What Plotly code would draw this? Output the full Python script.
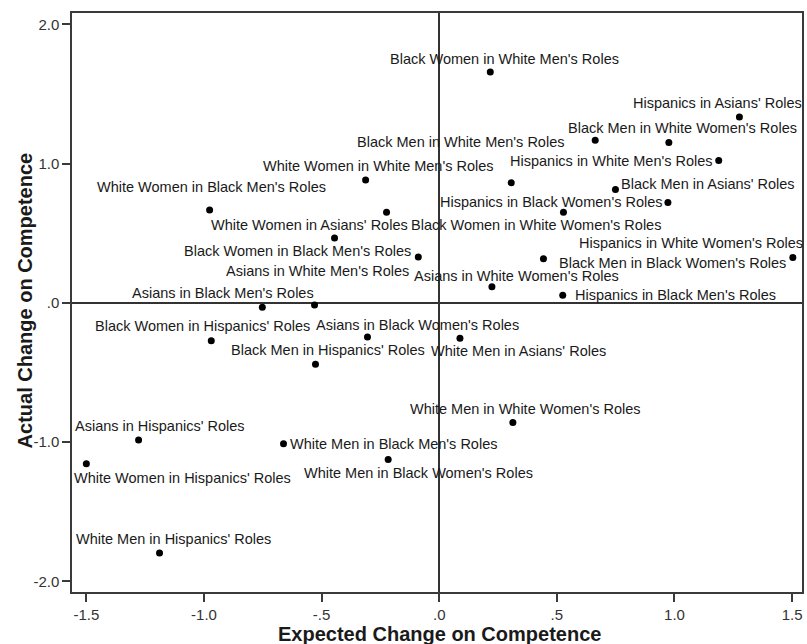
import plotly.graph_objects as go

# ---- data ----
labels = [
    "White Women in White Men's Roles",
    "White Women in Black Men's Roles",
    "White Women in Asians' Roles",
    "Black Women in Black Men's Roles",
    "Asians in White Men's Roles",
    "Black Women in White Men's Roles",
    "Hispanics in Asians' Roles",
    "Black Men in White Men's Roles",
    "Black Men in White Women's Roles",
    "Hispanics in White Men's Roles",
    "",
    "Black Men in Asians' Roles",
    "Hispanics in Black Women's Roles",
    "Black Women in White Women's Roles",
    "Black Men in Black Women's Roles",
    "Hispanics in White Women's Roles",
    "Asians in White Women's Roles",
    "Hispanics in Black Men's Roles",
    "Asians in Black Men's Roles",
    "",
    "Black Women in Hispanics' Roles",
    "Asians in Black Women's Roles",
    "Black Men in Hispanics' Roles",
    "White Men in Asians' Roles",
    "White Men in White Women's Roles",
    "Asians in Hispanics' Roles",
    "White Men in Black Men's Roles",
    "White Women in Hispanics' Roles",
    "White Men in Black Women's Roles",
    "White Men in Hispanics' Roles",
]
expected_change = [
    -0.313, -0.976, -0.224, -0.445, -0.089, 0.217, 1.276, 0.663, 0.976, 1.188,
    0.306, 0.749, 0.972, 0.528, 0.443, 1.503, 0.224, 0.525, -0.752, -0.530,
    -0.969, -0.305, -0.526, 0.088, 0.313, -1.278, -0.662, -1.500, -0.217, -1.189,
]
actual_change = [
    0.881, 0.666, 0.651, 0.465, 0.329, 1.658, 1.335, 1.168, 1.151, 1.022,
    0.862, 0.814, 0.721, 0.651, 0.316, 0.326, 0.115, 0.054, -0.032, -0.016,
    -0.272, -0.245, -0.441, -0.255, -0.860, -0.986, -1.013, -1.156, -1.126, -1.797,
]
x_tickvals = [-1.5, -1.0, -0.5, 0.0, 0.5, 1.0, 1.5]
x_ticktext = ["-1.5", "-1.0", "-.5", ".0", ".5", "1.0", "1.5"]
y_tickvals = [-2.0, -1.0, 0.0, 1.0, 2.0]
y_ticktext = ["-2.0", "-1.0", ".0", "1.0", "2.0"]

# ---- label placement (anchor, x shift px, y shift px downward) ----
label_place = [
    ("center", 13, -14), ("center", 2, -23), ("right", 23, 13), ("right", 78, 13),
    ("right", -7, 14), ("center", 14, -13), ("right", 65, -14), ("right", -29, 2),
    ("center", 14, -15), ("right", -4, 1), ("center", 0, 0), ("left", 4, -5),
    ("right", -3, 0), ("left", -154, 13), ("left", 14, 4), ("right", 12, -14),
    ("left", -80, -11), ("left", 10, 0), ("center", -39, -14), ("center", 0, 0),
    ("center", -9, -15), ("left", -53, -12), ("center", 13, -14), ("left", -31, 13),
    ("center", 13, -14), ("left", -66, -14), ("left", 4, 0), ("left", -14, 14),
    ("center", 30, 13), ("center", 14, -14),
]

FONT = "Liberation Sans, Arial, sans-serif"

fig = go.Figure()
fig.add_trace(go.Scatter(
    x=expected_change, y=actual_change, mode="markers",
    marker=dict(color="black", size=7),
    hovertext=labels, hoverinfo="text", showlegend=False,
))

annotations = []
for lab, xv, yv, (anc, dx, dy) in zip(labels, expected_change, actual_change, label_place):
    if not lab:
        continue
    annotations.append(dict(
        x=xv, y=yv, xref="x", yref="y", text=lab, showarrow=False,
        xanchor=anc, yanchor="middle", xshift=dx, yshift=-dy,
        font=dict(family=FONT, size=14.5, color="#1a1a1a"),
    ))

W, H = 807, 644
plot_l, plot_r, plot_t, plot_b = 72.3, 802.3, 12.7, 592.3
pw, ph = plot_r - plot_l, plot_b - plot_t

annotations.append(dict(
    x=(440.0 - plot_l) / pw, y=(plot_b - 634.5) / ph, xref="paper", yref="paper",
    text="<b>Expected Change on Competence</b>",
    showarrow=False, xanchor="center", yanchor="middle",
    font=dict(family=FONT, size=20, color="#1a1a1a"),
))
annotations.append(dict(
    x=(25.0 - plot_l) / pw, y=(plot_b - 300.7) / ph, xref="paper", yref="paper",
    text="<b>Actual Change on Competence</b>",
    showarrow=False, xanchor="center", yanchor="middle", textangle=-90,
    font=dict(family=FONT, size=20, color="#1a1a1a"),
))

axis_common = dict(
    showline=True, mirror=True, linecolor="#3a3a3a", linewidth=1.5,
    ticks="outside", ticklen=8, tickwidth=1.5, tickcolor="#3a3a3a",
    showgrid=False, zeroline=True, zerolinecolor="#333333", zerolinewidth=1.5,
    tickfont=dict(family=FONT, size=15, color="#333333"),
)

fig.update_layout(
    width=W, height=H, autosize=False,
    margin=dict(l=plot_l, r=W - plot_r, t=plot_t, b=H - plot_b),
    paper_bgcolor="white", plot_bgcolor="white",
    hovermode=False,
    annotations=annotations,
    xaxis=dict(range=[-1.561, 1.542], tickvals=x_tickvals, ticktext=x_ticktext, **axis_common),
    yaxis=dict(range=[-2.077, 2.081], tickvals=y_tickvals, ticktext=y_ticktext, **axis_common),
)

fig.write_html(
    "out.html",
    config={"displayModeBar": False},
    post_script="document.body.style.margin='0';document.body.style.overflow='hidden';",
)
